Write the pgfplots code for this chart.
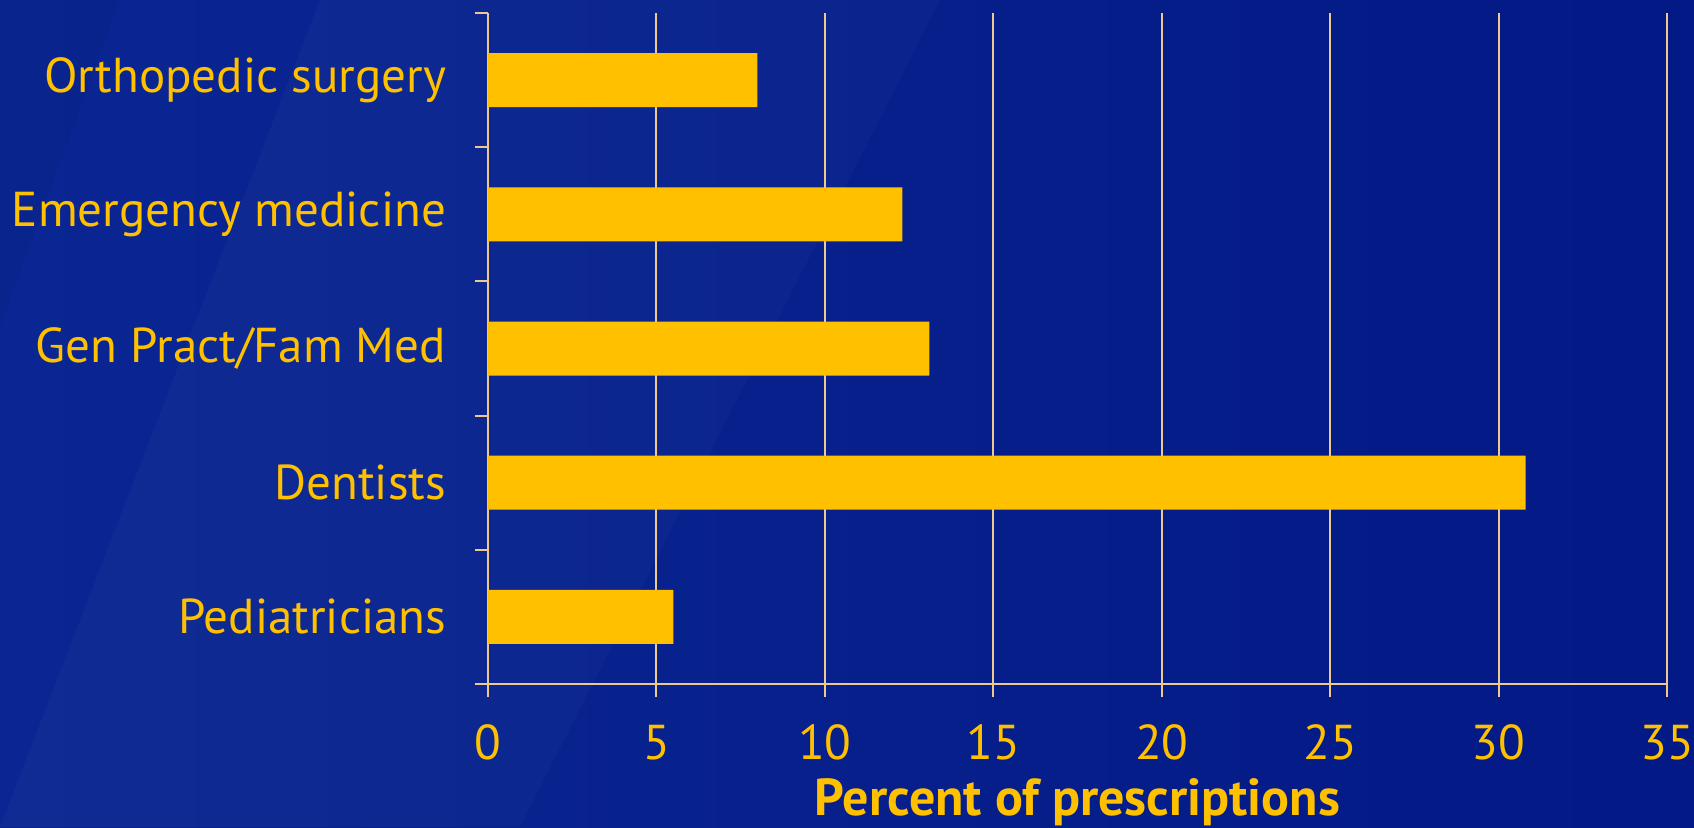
\documentclass[border=0pt]{standalone}
\usepackage{pgfplots}
\pgfplotsset{compat=1.18}
\usepackage{fontspec}
\setmainfont{PT Sans}
\definecolor{bgA}{HTML}{0A2692}
\definecolor{bgB}{HTML}{031985}
\definecolor{bar}{HTML}{FFC000}
\definecolor{gridc}{HTML}{EFC890}
\definecolor{txt}{HTML}{FFC000}
\begin{document}
\begin{tikzpicture}
\useasboundingbox (0,0) rectangle (847pt,413.5pt);
\shade[left color=bgA, right color=bgB] (0,0) rectangle (847pt,413.5pt);
\fill[white, opacity=0.025] (0,0) -- (160pt,413.5pt) -- (470pt,413.5pt) -- (260pt,0) -- cycle;
\fill[black, opacity=0.03] (0,413.5pt) -- (60pt,413.5pt) -- (0,250pt) -- cycle;
\begin{axis}[
  at={(244pt,71.5pt)}, anchor=south west,
  scale only axis, width=589.5pt, height=335.5pt,
  xbar, bar width=27pt,
  xmin=0, xmax=35, ymin=-0.5, ymax=4.5,
  xtick={0,5,...,35},
  ytick={0,1,2,3,4},
  yticklabels={Pediatricians,Dentists,Gen Pract/Fam Med,Emergency medicine,Orthopedic surgery},
  minor ytick={-0.5,0.5,...,4.5},
  axis x line*=bottom, axis y line*=left,
  axis line style={gridc, line width=1pt},
  tick style={gridc, line width=1pt},
  major tick length=6.5pt,
  minor tick length=6.5pt,
  major y tick style={draw=none},
  tick align=outside,
  xmajorgrids, major grid style={gridc, line width=1pt},
  /pgf/number format/assume math mode=true,
  yticklabel style={font=\fontsize{24.5}{28}\selectfont, text=txt, xshift=-11pt},
  xticklabel style={font=\fontsize{24.5}{28}\selectfont, text=txt, yshift=-10.5pt},
  xlabel={\textbf{Percent of prescriptions}},
  xlabel style={font=\fontsize{26}{30}\selectfont, text=txt, at={(axis description cs:0.5,0)}, anchor=base, yshift=-65.5pt},
]
\addplot[fill=bar, draw=none] coordinates {(5.5,0) (30.8,1) (13.1,2) (12.3,3) (8.0,4)};
\end{axis}
\end{tikzpicture}
\end{document}
